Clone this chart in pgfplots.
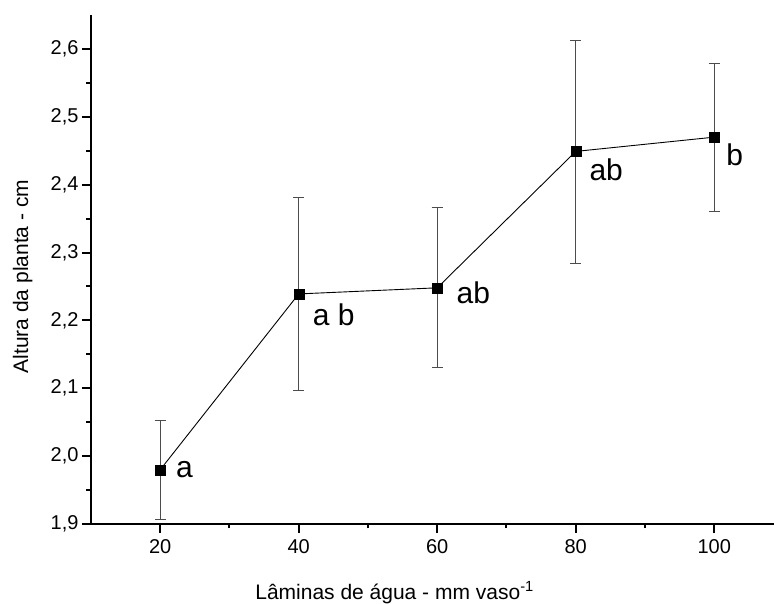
\documentclass[border=0pt]{standalone}
\usepackage{fontspec}
\setmainfont{Liberation Sans}
\usepackage{pgfplots}
\pgfplotsset{compat=1.18}
\begin{document}
\begin{tikzpicture}[x=1pt,y=1pt]
\useasboundingbox (-91,-80) rectangle (683,524);
\begin{axis}[
  at={(0,0)}, anchor=south west,
  scale only axis, width=683pt, height=509pt,
  xmin=10, xmax=108.63, ymin=1.9, ymax=2.65,
  axis x line*=bottom, axis y line*=left,
  axis line style={-, line width=2pt, black},
  xtick={20,40,60,80,100}, minor x tick num=1,
  ytick={1.9,2.0,2.1,2.2,2.3,2.4,2.5,2.6}, minor y tick num=1,
  tick align=outside, major tick length=9pt, minor tick length=4.5pt,
  tick style={line width=2pt, black},
  /pgf/number format/assume math mode=true,
  yticklabel style={/pgf/number format/.cd, use comma, fixed, fixed zerofill, precision=1},
  ticklabel style={font=\fontsize{20}{22}\selectfont},
  xticklabel style={yshift=-3pt},
  xlabel={Lâminas de água - mm vaso\textsuperscript{-1}},
  ylabel={Altura da planta - cm},
  xlabel style={at={(axis description cs:0.4445,-0.14735)}, anchor=base, font=\fontsize{21}{24}\selectfont},
  ylabel style={at={(axis description cs:-0.0922,0.486)}, anchor=base, font=\fontsize{21}{24}\selectfont},
  clip=false,
]
\addplot[black, line width=0.9pt, mark=square*, mark size=5pt, mark options={line width=0.4pt},
  error bars/.cd, y dir=both, y explicit,
  error bar style={black!70, line width=1pt},
  error mark options={rotate=90, mark size=5.5pt, black!70, line width=1pt}]
coordinates {
  (20,1.980)  += (0,0.072) -= (0,0.074)
  (40,2.239)  += (0,0.142) -= (0,0.143)
  (60,2.248)  += (0,0.119) -= (0,0.118)
  (80,2.449)  += (0,0.164) -= (0,0.165)
  (100,2.470) += (0,0.108) -= (0,0.110)
};
\node[font=\fontsize{30}{32}\selectfont] at (axis cs:23.5,1.980) {a};
\node[font=\fontsize{30}{32}\selectfont] at (axis cs:45.05,2.208) {a b};
\node[font=\fontsize{30}{32}\selectfont] at (axis cs:65.2,2.240) {ab};
\node[font=\fontsize{30}{32}\selectfont] at (axis cs:84.4,2.422) {ab};
\node[font=\fontsize{30}{32}\selectfont] at (axis cs:102.96,2.444) {b};
\end{axis}
\end{tikzpicture}
\end{document}
